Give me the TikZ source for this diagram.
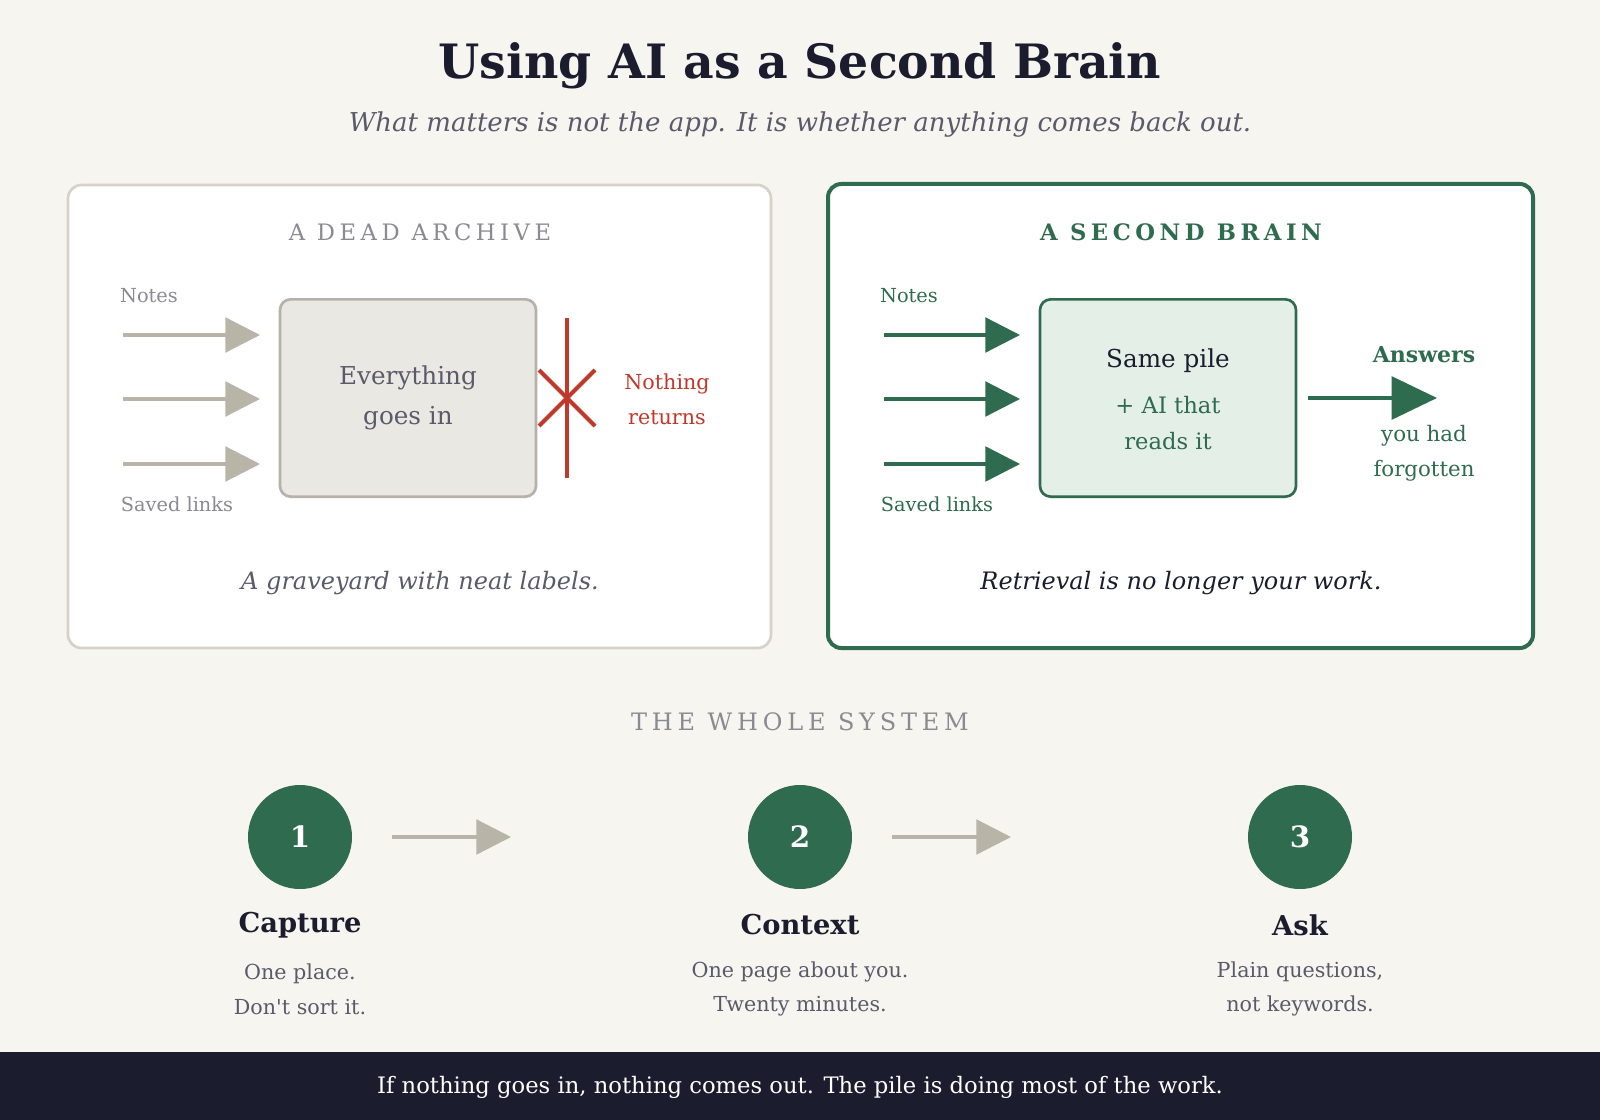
\documentclass[tikz,border=0pt]{standalone}
\usepackage{fontspec}
\setmainfont{DejaVu Serif}
\usetikzlibrary{arrows.meta}
\definecolor{bg}{HTML}{F7F5F0}
\definecolor{ink}{HTML}{1B1D2E}
\definecolor{grn}{HTML}{2E6B4F}
\definecolor{garr}{HTML}{B8B4A8}
\definecolor{gfill}{HTML}{EAE8E2}
\definecolor{gbord}{HTML}{D6D2C8}
\definecolor{red}{HTML}{C0392B}
\definecolor{gtxt}{HTML}{8A8A92}
\definecolor{sub}{HTML}{5A5A6A}
\definecolor{lgrn}{HTML}{E4EFE8}
\tikzset{
 panel/.style={rounded corners=10pt,line width=2pt},
 garrow/.style={draw=garr,line width=2.5pt,-{Triangle[length=26pt,width=26pt]}},
 grarrow/.style={draw=grn,line width=2.5pt,-{Triangle[length=26pt,width=26pt]}},
 lbl/.style={font=\fontsize{14.5}{16}\selectfont},
 hdr/.style={font=\fontsize{17}{19}\selectfont\addfontfeature{LetterSpace=20}},
 hdrb/.style={font=\fontsize{17}{19}\selectfont\bfseries\addfontfeature{LetterSpace=20}},
 circ/.style={circle,fill=grn,minimum size=78pt,inner sep=0pt,text=white,font=\fontsize{22}{24}\selectfont\bfseries},
 steptitle/.style={text=ink,font=\fontsize{20.5}{22}\selectfont\bfseries},
 desc/.style={text=sub,align=center,font=\fontsize{15.5}{26}\selectfont},
}
\begin{document}
\begin{tikzpicture}[x=0.75pt,y=-0.75pt]
\fill[bg] (0,0) rectangle (1600,1120);
\useasboundingbox (0,0) rectangle (1600,1120);
\node (title) at (800,66) [text=ink,font=\fontsize{35.5}{38}\selectfont\bfseries] {Using AI as a Second Brain};
\node (subt) at (800,125) [text=sub,font=\fontsize{19.5}{22}\selectfont\itshape] {What matters is not the app. It is whether anything comes back out.};
% left panel
\draw[panel,draw=gbord,fill=white] (68,185) rectangle (771,648);
\node (lh) at (420,232) [hdr,text=gtxt] {A DEAD ARCHIVE};
\node (lbox) [draw=gbord!85!black,fill=gfill,line width=2pt,rounded corners=8pt,minimum width=192pt,minimum height=148pt,text=sub,align=center,font=\fontsize{18.5}{30}\selectfont] at (408,398) {Everything\\goes in};
\foreach \y/\n in {335/a,399/b,464/c}{
 \coordinate (ls\n) at (123,\y); \coordinate (le\n) at (260,\y);
 \draw[garrow] (ls\n) -- (le\n);}
\node (ln) at (149,296) [lbl,text=gtxt] {Notes};
\node (ll) at (177,504) [lbl,text=gtxt] {Saved links};
\coordinate (rt) at (567,318); \coordinate (rb) at (567,478);
\draw[red,line width=3pt] (rt) -- (rb);
\coordinate (x1) at (539,370); \coordinate (x2) at (595,426);
\coordinate (x3) at (539,426); \coordinate (x4) at (595,370);
\draw[red,line width=3pt] (x1) -- (x2) (x3) -- (x4);
\node (nr) at (667,399) [lbl,text=red,align=center,font=\fontsize{15.5}{26}\selectfont] {Nothing\\returns};
\node (lc) at (420,583) [text=sub,font=\fontsize{18}{20}\selectfont\itshape] {A graveyard with neat labels.};
% right panel
\draw[panel,draw=grn,line width=3pt,fill=white] (828,184) rectangle (1533,648);
\node (rh) at (1181,232) [hdrb,text=grn] {A SECOND BRAIN};
\node (rbox) [draw=grn,fill=lgrn,line width=2pt,rounded corners=8pt,minimum width=192pt,minimum height=148pt] at (1168,398) {};
\node (rbt) at (1168,361) [text=ink,font=\fontsize{18.5}{20}\selectfont] {Same pile};
\node (rbs) at (1168,423) [text=grn,align=center,font=\fontsize{17}{27}\selectfont] {+ AI that\\reads it};
\foreach \y/\n in {335/a,399/b,464/c}{
 \coordinate (rs\n) at (884,\y); \coordinate (re\n) at (1020,\y);
 \draw[grarrow] (rs\n) -- (re\n);}
\node (rn) at (909,296) [lbl,text=grn] {Notes};
\node (rl) at (937,504) [lbl,text=grn] {Saved links};
\coordinate (os) at (1308,398); \coordinate (oe) at (1437,398);
\draw[grn,line width=3pt,-{Triangle[length=34pt,width=32pt]}] (os) -- (oe);
\node (ans) at (1424,355) [text=grn,font=\fontsize{16.5}{18}\selectfont\bfseries] {Answers};
\node (yh) at (1424,453) [text=grn,align=center,font=\fontsize{16}{26}\selectfont] {you had\\forgotten};
\node (rc) at (1181,583) [text=ink,font=\fontsize{18}{20}\selectfont\itshape] {Retrieval is no longer your work.};
% system
\node (sys) at (800,722) [hdr,text=gtxt,font=\fontsize{18}{20}\selectfont\addfontfeature{LetterSpace=20}] {THE WHOLE SYSTEM};
\node[circ] (c1) at (300,837) {1};
\node[circ] (c2) at (800,837) {2};
\node[circ] (c3) at (1300,837) {3};
\coordinate (a1s) at (392,837); \coordinate (a1e) at (511,837);
\coordinate (a2s) at (892,837); \coordinate (a2e) at (1011,837);
\draw[garrow] (a1s) -- (a1e);
\draw[garrow] (a2s) -- (a2e);
\node[steptitle] (s1) at (300,925) {Capture};
\node[steptitle] (s2) at (800,925) {Context};
\node[steptitle] (s3) at (1300,925) {Ask};
\node[desc] (d1) at (300,989) {One place.\\Don\textquotesingle t sort it.};
\node[desc] (d2) at (800,989) {One page about you.\\Twenty minutes.};
\node[desc] (d3) at (1300,989) {Plain questions,\\not keywords.};
% footer
\fill[ink] (0,1052) rectangle (1600,1120);
\node (foot) at (800,1087) [text=white,font=\fontsize{17}{19}\selectfont] {If nothing goes in, nothing comes out. The pile is doing most of the work.};
\end{tikzpicture}
\end{document}
